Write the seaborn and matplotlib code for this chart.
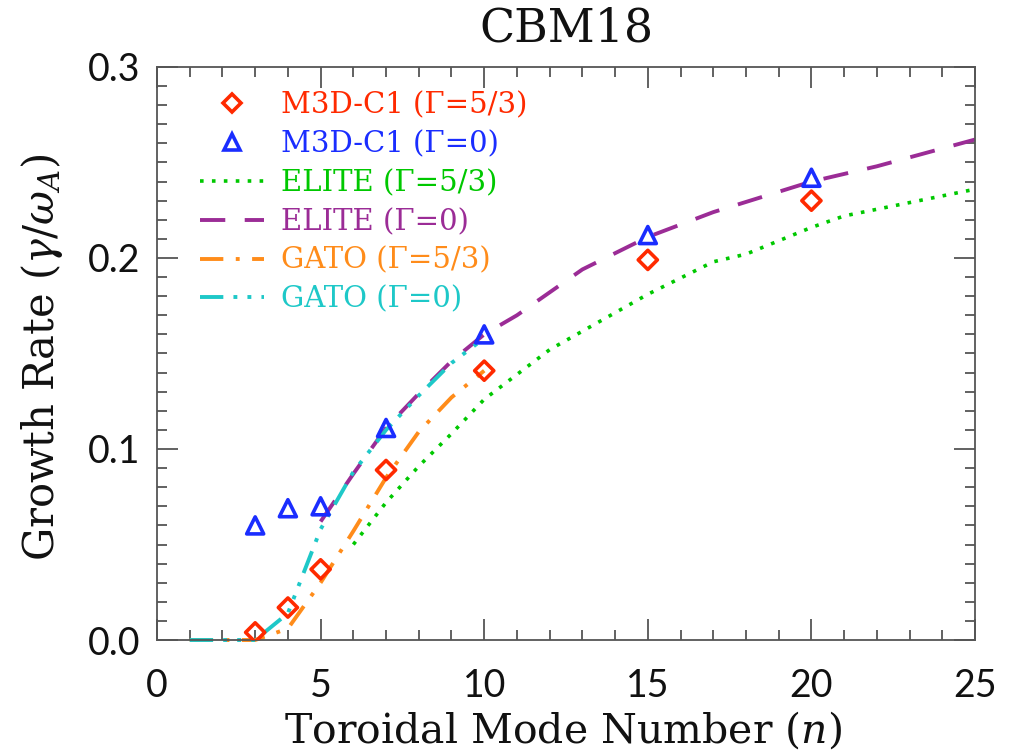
import matplotlib
matplotlib.use("Agg")
import matplotlib.pyplot as plt
import numpy as np
import pandas as pd
import seaborn as sns
from matplotlib.lines import Line2D
from matplotlib.ticker import MultipleLocator, FormatStrFormatter

# ---- growth rates gamma / omega_A versus toroidal mode number n ----
# M3D-C1 runs
m3d_n = [3, 4, 5, 7, 10, 15, 20]
m3d_gamma_53 = [0.004, 0.017, 0.037, 0.089, 0.141, 0.199, 0.230]
m3d_gamma_0 = [0.060, 0.069, 0.070, 0.111, 0.160, 0.212, 0.242]

# ELITE
elite53_n = [6, 7, 8, 9, 10, 12, 15, 17, 18, 20, 21, 25]
elite53_gamma = [0.050, 0.072, 0.091, 0.108, 0.126, 0.152, 0.181, 0.198,
                 0.202, 0.216, 0.222, 0.236]
elite0_n = [5, 6, 7, 8, 9, 10, 11, 12, 13, 15, 17, 20, 22, 25]
elite0_gamma = [0.062, 0.087, 0.111, 0.129, 0.146, 0.160, 0.170, 0.182,
                0.194, 0.211, 0.224, 0.240, 0.248, 0.262]

# GATO
gato_n = [1, 2, 3, 4, 5, 6, 7, 8, 9, 10]
gato53_gamma = [0.0, 0.0, 0.0, 0.006, 0.030, 0.057, 0.085, 0.109, 0.127, 0.141]
gato0_gamma = [0.0, 0.0, 0.0, 0.014, 0.058, 0.088, 0.110, 0.128, 0.145, 0.158]

labels = ["M3D-C1 (Γ=5/3)", "M3D-C1 (Γ=0)", "ELITE (Γ=5/3)",
          "ELITE (Γ=0)", "GATO (Γ=5/3)", "GATO (Γ=0)"]

RED = "#ff2a00"
BLUE = "#1a2dff"
GREEN = "#00c800"
PURPLE = "#9b2c96"
ORANGE = "#ff8c1a"
CYAN = "#1ec8c8"
AXCOL = "#555555"
INK = "#111111"

sns.set_theme(style="ticks")
plt.rcParams["font.family"] = ["DejaVu Serif", "DejaVu Sans"]
plt.rcParams["mathtext.fontset"] = "dejavuserif"

fig = plt.figure(figsize=(10.13, 7.55), dpi=100)
ax = fig.add_axes([0.155, 0.1523, 0.8075, 0.759])

# model curves
line_specs = [
    (elite53_n, elite53_gamma, GREEN, (0, (1.0, 2.3)), 2.6),
    (elite0_n, elite0_gamma, PURPLE, (0, (6.5, 5.0)), 2.8),
    (gato_n, gato53_gamma, ORANGE, (0, (6.0, 3.2, 1.0, 3.2)), 2.8),
    (gato_n, gato0_gamma, CYAN, (0, (6.0, 2.6, 1.0, 2.6, 1.0, 2.6, 1.0, 2.6)), 2.8),
]
for xs, ys, col, ls, lw in line_specs:
    sns.lineplot(x=xs, y=ys, ax=ax, color=col, linestyle=ls, linewidth=lw,
                 estimator=None, errorbar=None, clip_on=False,
                 dash_capstyle="butt")

# simulation points
df53 = pd.DataFrame({"n": m3d_n, "gamma": m3d_gamma_53})
df0 = pd.DataFrame({"n": m3d_n, "gamma": m3d_gamma_0})
sns.scatterplot(data=df53, x="n", y="gamma", ax=ax, marker="D", s=95,
                facecolor="none", edgecolor=RED, linewidth=2.6, zorder=5)
sns.scatterplot(data=df0, x="n", y="gamma", ax=ax, marker="^", s=150,
                facecolor="none", edgecolor=BLUE, linewidth=2.6, zorder=5)
for coll in ax.collections:
    coll.set_facecolor("none")

ax.set_xlim(0, 25)
ax.set_ylim(0, 0.3)
ax.xaxis.set_major_locator(MultipleLocator(5))
ax.xaxis.set_minor_locator(MultipleLocator(1))
ax.yaxis.set_major_locator(MultipleLocator(0.1))
ax.yaxis.set_minor_locator(MultipleLocator(0.01))
ax.yaxis.set_major_formatter(FormatStrFormatter("%.1f"))

ax.tick_params(which="both", direction="in", top=True, right=True,
               color=AXCOL, width=1.3)
ax.tick_params(which="major", length=15)
ax.tick_params(which="minor", length=7)
ax.tick_params(axis="x", which="major", pad=20)
ax.tick_params(axis="y", which="major", pad=12)
for lab in ax.get_xticklabels() + ax.get_yticklabels():
    lab.set_fontfamily(["Lato", "DejaVu Sans"])
    lab.set_fontweight("normal")
    lab.set_fontsize(27)
    lab.set_color(INK)
for sp in ax.spines.values():
    sp.set_color(AXCOL)
    sp.set_linewidth(1.3)

ax.set_title("CBM18", fontsize=33, pad=18, color=INK)
ax.set_xlabel("Toroidal Mode Number ($n$)", fontsize=29.5, color=INK)
ax.set_ylabel(r"Growth Rate ($\gamma/\omega_A$)", fontsize=30, color=INK)
ax.xaxis.set_label_coords(0.496, -0.122)
ax.xaxis.label.set_va("top")
ax.yaxis.set_label_coords(-0.113, 0.494)

handles = [
    Line2D([], [], linestyle="none", marker="D", markersize=9,
           markerfacecolor="none", markeredgecolor=RED, markeredgewidth=2.6, color=RED),
    Line2D([], [], linestyle="none", marker="^", markersize=11,
           markerfacecolor="none", markeredgecolor=BLUE, markeredgewidth=2.6, color=BLUE),
]
for xs, ys, col, ls, lw in line_specs:
    handles.append(Line2D([], [], color=col, linestyle=ls, linewidth=lw,
                          dash_capstyle="butt"))
leg = ax.legend(handles, labels, loc="upper left", bbox_to_anchor=(0.052, 0.957),
                frameon=False, fontsize=21, handlelength=2.2, handletextpad=0.6,
                labelspacing=0.37, borderpad=0, borderaxespad=0,
                labelcolor=[RED, BLUE, GREEN, PURPLE, ORANGE, CYAN])

fig.savefig("out.png", dpi=100)
